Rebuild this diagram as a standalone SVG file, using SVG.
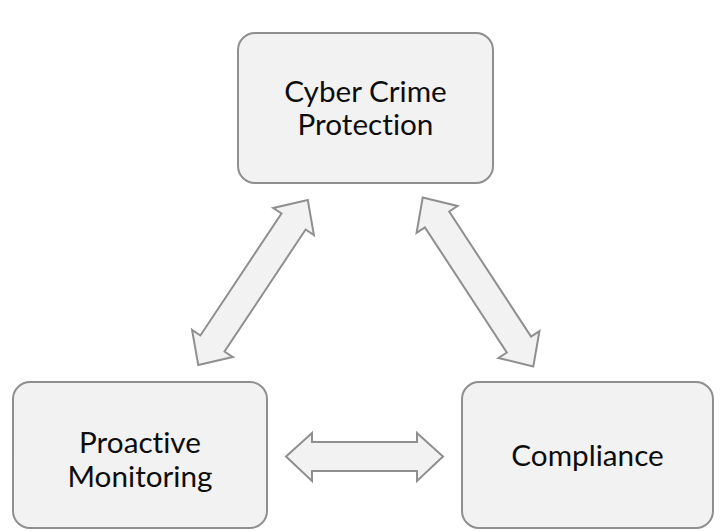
<svg xmlns="http://www.w3.org/2000/svg" width="720" height="532" viewBox="0 0 720 532">
<style>
.box{fill:#f2f2f2;stroke:#8f8f8f;stroke-width:2}
.arrow{fill:#f2f2f2;stroke:#8f8f8f;stroke-width:2;stroke-linejoin:miter}
.lbl{font-family:Lato,"Liberation Sans",sans-serif;font-size:29.7px;fill:#0d0d0d;text-anchor:middle;font-variant-ligatures:none;font-feature-settings:"liga" 0,"clig" 0}
</style>
<defs>
<path id="dbl" d="M -100 0 L -74 -24.5 L -74 -14.5 L 74 -14.5 L 74 -24.5 L 100 0 L 74 24.5 L 74 14.5 L -74 14.5 L -74 24.5 Z"/>
</defs>
<rect width="720" height="532" fill="#ffffff"/>
<g id="connectors">
<use href="#dbl" class="arrow" transform="translate(253 282.5) rotate(-56.4) scale(0.99 1)"/>
<use href="#dbl" class="arrow" transform="translate(478 282) rotate(56.8) scale(1.01 1)"/>
<path class="arrow" d="M 286 456.5 L 312 433 L 312 442 L 417 442 L 417 433 L 443 456.5 L 417 481 L 417 471 L 312 471 L 312 481 Z"/>
</g>
<g id="node-cyber">
<rect class="box" x="238" y="33" width="255" height="150" rx="17"/>
<text class="lbl" x="365.5" y="102">Cyber Crime</text>
<text class="lbl" x="365.5" y="135">Protection</text>
</g>
<g id="node-proactive">
<rect class="box" x="13" y="382" width="254" height="146" rx="17"/>
<text class="lbl" x="140" y="453">Proactive</text>
<text class="lbl" x="140" y="487">Monitoring</text>
</g>
<g id="node-compliance">
<rect class="box" x="462" y="382" width="251" height="146" rx="17"/>
<text class="lbl" x="587.5" y="466">Compliance</text>
</g>
</svg>
